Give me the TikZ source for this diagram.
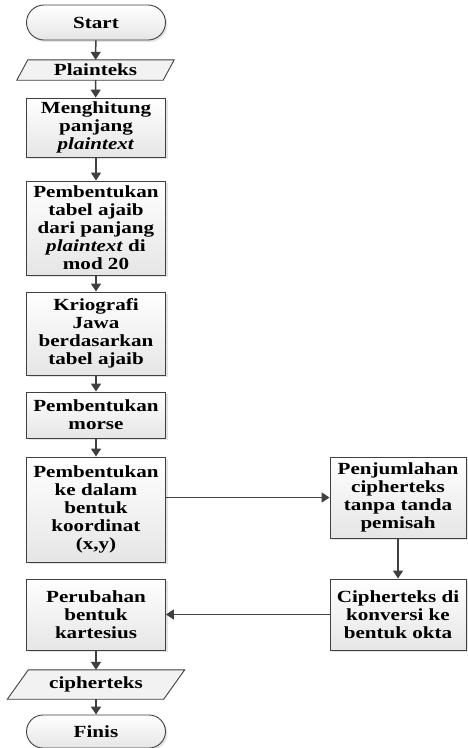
\documentclass[tikz,border=0pt]{standalone}
\usepackage{fontspec}
\setmainfont{Liberation Serif}[FakeStretch=1.24]
\usepackage{tikz}
\usetikzlibrary{arrows.meta,shapes.misc,shadows}

\definecolor{edge}{RGB}{64,64,64}

\tikzset{
  base/.style={draw=edge, line width=0.9pt, top color=white, bottom color=black!10,
    font=\bfseries\fontsize{17}{18}\selectfont, align=center, inner sep=0pt,
    drop shadow={shadow xshift=2pt, shadow yshift=-2pt, fill=black!30, opacity=0.35}},
  procbox/.style={base, rectangle, minimum width=139pt},
  termbox/.style={base, rounded rectangle, minimum width=139pt, minimum height=35pt},
  iotext/.style={font=\bfseries\fontsize{17}{18}\selectfont, inner sep=0pt},
  iofill/.style={draw=edge, line width=0.9pt, fill=black!5},
  flow/.style={draw=edge, line width=1.5pt, -{Triangle[length=8pt,width=10pt]}},
}

\begin{document}
\begin{tikzpicture}[x=1pt,y=1pt,yscale=-1]
\useasboundingbox (0,0) rectangle (467,748);

% left column
\node[termbox] (start) at (96,22.5) {Start};
\node[iotext, minimum width=146pt, minimum height=20pt] (plain) at (95.5,70) {};
\draw[iofill] ([xshift=5.5pt]plain.north west) -- ([xshift=5.5pt]plain.north east)
  -- ([xshift=-5.5pt]plain.south east) -- ([xshift=-5.5pt]plain.south west) -- cycle;
\node[iotext] at (plain) {Plainteks};
\node[procbox, minimum height=59pt] (hitung) at (96,127.5) {Menghitung\\panjang\\\textit{plaintext}};
\node[procbox, minimum height=94pt] (tabel) at (96,228) {Pembentukan\\tabel ajaib\\dari panjang\\\textit{plaintext} di\\mod 20};
\node[procbox, minimum height=83pt] (jawa) at (96,333.5) {Kriografi\\Jawa\\berdasarkan\\tabel ajaib};
\node[procbox, minimum height=46pt] (morse) at (96,415) {Pembentukan\\morse};
\node[procbox, minimum height=105pt] (koord) at (96,509.5) {Pembentukan\\ke dalam\\bentuk\\koordinat\\(x,y)};

% right column
\node[procbox, minimum width=136pt, minimum height=81pt] (jumlah) at (398,497.5) {Penjumlahan\\cipherteks\\tanpa tanda\\pemisah};
\node[procbox, minimum width=136pt, minimum height=71pt] (okta) at (398,614.5) {Cipherteks di\\konversi ke\\bentuk okta};

% bottom
\node[procbox, minimum height=71pt] (kartes) at (96,614.5) {Perubahan\\bentuk\\kartesius};
\node[iotext, minimum width=156pt, minimum height=29pt] (cipher) at (96,684.5) {};
\draw[iofill] ([xshift=10.5pt]cipher.north west) -- ([xshift=10.5pt]cipher.north east)
  -- ([xshift=-10.5pt]cipher.south east) -- ([xshift=-10.5pt]cipher.south west) -- cycle;
\node[iotext] at (cipher) {cipherteks};
\node[termbox, minimum height=33pt] (finis) at (96,731.5) {Finis};

% connectors
\draw[flow] (start) -- (plain);
\draw[flow] (plain) -- (hitung);
\draw[flow] (hitung) -- (tabel);
\draw[flow] (tabel) -- (jawa);
\draw[flow] (jawa) -- (morse);
\draw[flow] (morse) -- (koord);
\draw[flow] (koord.east |- jumlah.west) -- (jumlah.west);
\draw[flow] (jumlah) -- (okta);
\draw[flow] (okta) -- (kartes);
\draw[flow] (kartes) -- (cipher);
\draw[flow] (cipher) -- (finis);

\end{tikzpicture}
\end{document}
